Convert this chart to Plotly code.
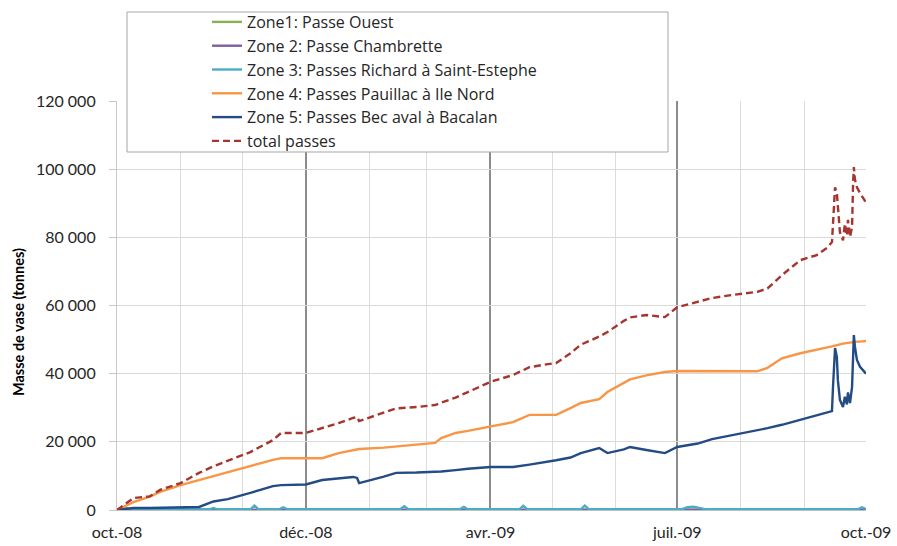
import plotly.graph_objects as go

# ---- data (tonnes of mud per zone) ----
dates = [
    "2008-10-01", "2008-10-06", "2008-10-09", "2008-10-17", "2008-10-22", "2008-11-01",
    "2008-11-10", "2008-11-17", "2008-11-24", "2008-12-05", "2008-12-16", "2008-12-20",
    "2009-01-01", "2009-01-09", "2009-01-17", "2009-01-24", "2009-01-26", "2009-01-27",
    "2009-02-08", "2009-02-14", "2009-02-24", "2009-03-05", "2009-03-08", "2009-03-15",
    "2009-03-21", "2009-04-01", "2009-04-12", "2009-04-20", "2009-04-29", "2009-05-03",
    "2009-05-10", "2009-05-15", "2009-05-24", "2009-05-28", "2009-06-05", "2009-06-08",
    "2009-06-16", "2009-06-25", "2009-07-01", "2009-07-11", "2009-07-18", "2009-07-28",
    "2009-08-09", "2009-08-14", "2009-08-21", "2009-08-30", "2009-09-07", "2009-09-12",
    "2009-09-14 10:00", "2009-09-14 22:00", "2009-09-15 22:00", "2009-09-16 19:00",
    "2009-09-17 07:00", "2009-09-18 07:00", "2009-09-19 19:00", "2009-09-20 17:00",
    "2009-09-21 17:00", "2009-09-22 05:00", "2009-09-23 05:00", "2009-09-24 05:00",
    "2009-09-24 17:00", "2009-09-25 02:00", "2009-09-25 14:00", "2009-09-26 14:00",
    "2009-09-28 02:00", "2009-09-30 12:00", "2009-10-01",
]

total_passes = [
    0, 2300, 3500, 4000, 5900, 7900,
    10900, 12800, 14500, 17000, 20500, 22600,
    22600, 24000, 25500, 27000, 27300, 26100,
    28500, 29800, 30200, 30800, 31500, 33000,
    34600, 37600, 39600, 41900, 42800, 43100,
    46000, 48500, 50900, 52200, 55500, 56500,
    57200, 56600, 59500, 61000, 62200, 63100,
    64000, 65000, 68900, 73300, 74800, 76900,
    78600, 84000, 94700, 93000,
    88900, 81500, 79100, 84000,
    80500, 85100, 80100, 83000,
    95900, 100600, 97000, 94700,
    93000, 90400, 90200,
]

zone4 = [
    0, 1500, 2300, 3900, 5300, 7300,
    8800, 10000, 11000, 12800, 14700, 15200,
    15200, 15200, 16700, 17500, 17900, 17900,
    18300, 18600, 19100, 19700, 21100, 22600,
    23200, 24600, 25800, 27900, 27900, 27900,
    29900, 31400, 32500, 34600, 37300, 38300,
    39500, 40500, 40800, 40800, 40800, 40800,
    40700, 41700, 44500, 46000, 47000, 47500,
    48000, 48100, 48300, 48400,
    48500, 48600, 48800, 48900,
    49000, 49000, 49100, 49200,
    49200, 49300, 49300, 49400,
    49400, 49600, 49600,
]

zone5 = [
    0, 400, 600, 600, 700, 800,
    900, 2500, 3200, 5000, 7000, 7300,
    7500, 8800, 9300, 9700, 9400, 7900,
    9800, 10900, 11000, 11100, 11300, 11700,
    12100, 12600, 12600, 13300, 14100, 14600,
    15400, 16700, 18200, 16700, 17800, 18500,
    17600, 16700, 18500, 19500, 20800, 22000,
    23300, 24000, 25000, 26500, 27800, 28700,
    29000, 36100, 47500, 44900,
    38100, 32300, 30200, 33200,
    31000, 34500, 31400, 36100,
    46000, 51300, 48000, 44000,
    42000, 40200, 40000,
]

zone3_dates = [
    "2008-10-01", "2008-10-04", "2008-10-06", "2008-10-08", "2008-11-15", "2008-11-17",
    "2008-11-19", "2008-12-05", "2008-12-07", "2008-12-09", "2008-12-19", "2008-12-21",
    "2008-12-23", "2009-02-16", "2009-02-18", "2009-02-20", "2009-03-17", "2009-03-19",
    "2009-03-21", "2009-04-15", "2009-04-17", "2009-04-19", "2009-05-15", "2009-05-17",
    "2009-05-19", "2009-07-03", "2009-07-06", "2009-07-09", "2009-07-12", "2009-07-15",
    "2009-09-27", "2009-09-29", "2009-10-01",
]
zone3 = [
    0, 200, 500, 200, 200, 600,
    200, 200, 1300, 200, 200, 800,
    200, 200, 1100, 200, 200, 900,
    200, 200, 1200, 200, 200, 1300,
    200, 200, 800, 1000, 600, 200,
    200, 800, 300,
]

small_dates = ["2008-10-01", "2008-12-01", "2009-02-01", "2009-04-01", "2009-06-01",
               "2009-08-01", "2009-10-01"]
zone1 = [0, 50, 80, 60, 90, 70, 100]
zone2 = [0, 30, 60, 40, 70, 50, 80]

x_tick_dates = ["2008-10-01", "2009-01-01", "2009-04-01", "2009-07-01", "2009-10-01"]
x_tick_text = ["oct.-08", "déc.-08", "avr.-09", "juil.-09", "oct.-09"]
y_tick_vals = [0, 20000, 40000, 60000, 80000, 100000, 120000]
y_tick_text = ["0", "20 000", "40 000", "60 000", "80 000", "100 000", "120 000"]

FONT = "Lato"
LEG_FONT = "Open Sans"
TXT = "#262626"

# ---- layout geometry in pixels ----
W, H = 897, 546
L, R, T, B = 117, 31, 101, 36
PW, PH = W - L - R, H - T - B


def px_x(px):
    return (px - L) / PW


def px_y(py):
    return (H - B - py) / PH


fig = go.Figure()

series = [
    ("Zone1: Passe Ouest", small_dates, zone1, "#8AB04F", "solid"),
    ("Zone 2: Passe Chambrette", small_dates, zone2, "#7F5FA0", "solid"),
    ("Zone 3: Passes Richard à Saint-Estephe", zone3_dates, zone3, "#4BACC6", "solid"),
    ("Zone 4: Passes Pauillac à Ile Nord", dates, zone4, "#F79646", "solid"),
    ("Zone 5: Passes Bec aval à Bacalan", dates, zone5, "#234C85", "solid"),
    ("total passes", dates, total_passes, "#A6352F", "7px,4px"),
]
for name, xs, ys, color, dash in series:
    fig.add_trace(go.Scatter(
        x=xs, y=ys, name=name, mode="lines",
        line=dict(color=color, width=2.4, dash=dash),
    ))

# legend frame (white box that sits over the top of the plot)
fig.add_shape(
    type="rect", xref="paper", yref="paper",
    x0=px_x(127), x1=px_x(668), y0=px_y(152), y1=px_y(12),
    fillcolor="white", line=dict(color="#A6A6A6", width=1), layer="above",
)

fig.add_annotation(
    text="Masse de vase (tonnes)", textangle=-90, showarrow=False,
    xref="paper", yref="paper", x=px_x(18), y=px_y(322),
    xanchor="center", yanchor="middle",
    font=dict(family=FONT, size=14.5, color="#000000", weight="bold"),
)
fig.add_annotation(
    text="elapse", showarrow=False,
    xref="paper", yref="paper", x=px_x(-2), y=px_y(-13),
    xanchor="left", yanchor="middle",
    font=dict(family=FONT, size=22, color="#000000"),
)

fig.update_layout(
    width=W, height=H,
    margin=dict(l=L, r=R, t=T, b=B, autoexpand=False),
    paper_bgcolor="white", plot_bgcolor="white",
    font=dict(family=FONT, color=TXT),
    legend=dict(
        x=px_x(207), y=px_y(5), xanchor="left", yanchor="top",
        bgcolor="rgba(0,0,0,0)", borderwidth=0,
        font=dict(family=LEG_FONT, size=16, color=TXT),
        itemwidth=30, tracegroupgap=0,
    ),
    showlegend=True,
)

fig.update_xaxes(
    type="date", range=["2008-10-01", "2009-10-01"], automargin=False,
    tickmode="array", tickvals=x_tick_dates, ticktext=x_tick_text,
    showgrid=True, gridcolor="#8C8C8C", gridwidth=1.5,
    minor=dict(tickmode="linear", tick0="2008-10-01", dtick="M1",
               showgrid=True, gridcolor="#DCDCDC", gridwidth=1.2),
    showline=True, linecolor="#BFBFBF", linewidth=1,
    ticks="", tickfont=dict(family=FONT, size=16, color=TXT),
    ticklabelstandoff=8, zeroline=False,
)
fig.update_yaxes(
    range=[0, 120000], automargin=False,
    tickmode="array", tickvals=y_tick_vals, ticktext=y_tick_text,
    showgrid=True, gridcolor="#D9D9D9", gridwidth=1.2,
    showline=True, linecolor="#C8C8C8", linewidth=1.2,
    ticks="outside", ticklen=7, tickcolor="#C8C8C8",
    tickfont=dict(family=FONT, size=16, color=TXT),
    ticklabelstandoff=10, zeroline=False,
)

fig.write_html("out.html")
